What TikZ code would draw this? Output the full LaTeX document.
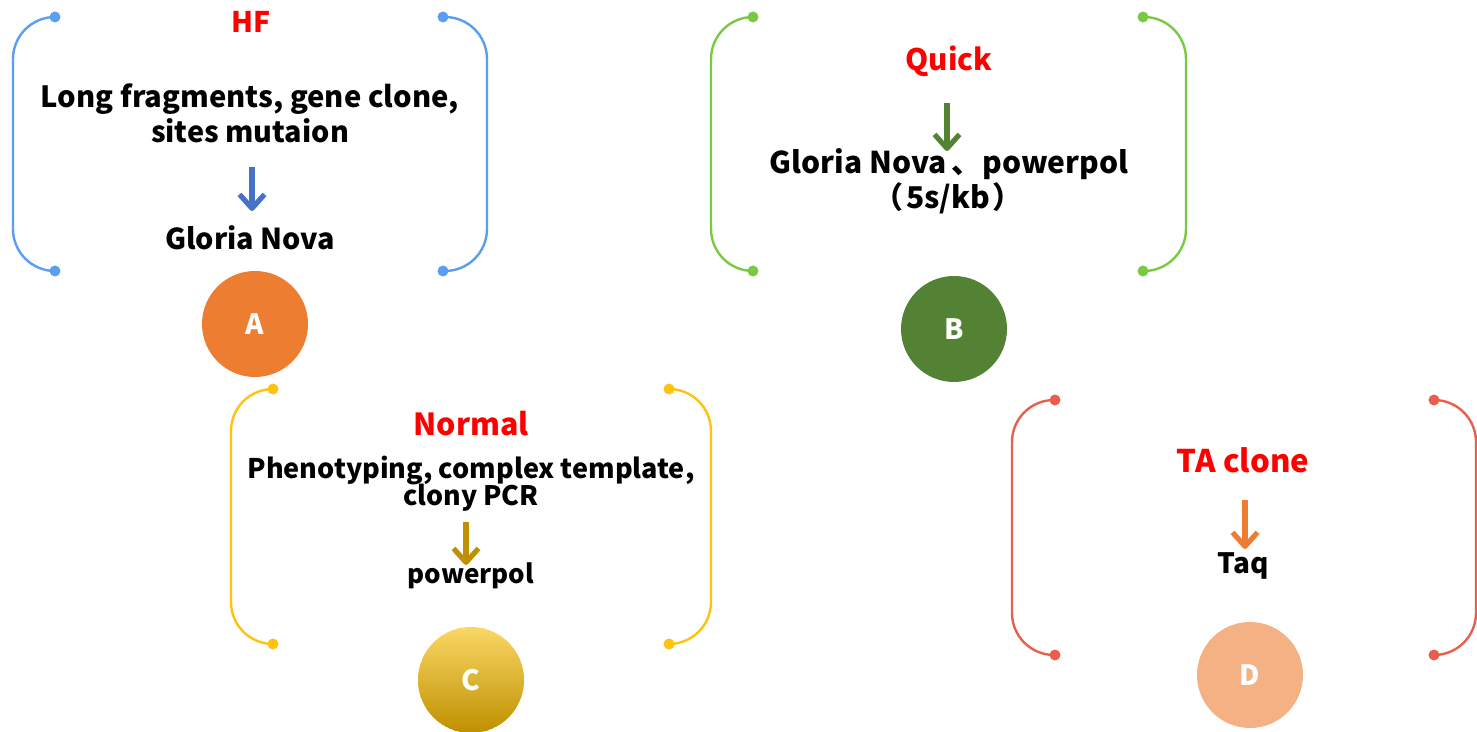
\documentclass[tikz,border=0pt]{standalone}
\usepackage{fontspec}
\setmainfont{Noto Sans CJK SC}
\usetikzlibrary{arrows.meta}
\definecolor{titlered}{HTML}{FF0000}
\definecolor{brA}{HTML}{5B9DF0}
\definecolor{arA}{HTML}{4472C4}
\definecolor{ciA}{HTML}{ED7D31}
\definecolor{brB}{HTML}{7AC943}
\definecolor{arB}{HTML}{548235}
\definecolor{brC}{HTML}{FFC20E}
\definecolor{arC}{HTML}{BF9000}
\definecolor{ciCtop}{HTML}{FAD866}
\definecolor{brD}{HTML}{E8604C}
\definecolor{arD}{HTML}{ED7D31}
\definecolor{ciD}{HTML}{F4B183}
\newcommand{\fsz}[1]{\fontsize{#1}{#1}\selectfont\bfseries}
\begin{document}
\begin{tikzpicture}[x=0.5pt,y=-0.5pt,
  title/.style={text=titlered, inner sep=0pt, anchor=base},
  body/.style={inner sep=0pt, anchor=base},
  bracket/.style={line width=1.2pt, rounded corners=21pt},
  dotmark/.style={circle, inner sep=0pt, minimum size=5.5pt},
  badge/.style={circle, minimum size=53pt, inner sep=0pt, text=white, font=\fsz{14}},
  flow/.style={line width=2.6pt, line join=round, -{Straight Barb[length=7pt,width=12.5pt,line join=round]}}
]
\useasboundingbox (0,0) rectangle (1477,732);

% ---------- A ----------
\coordinate (aTL) at (55,17);  \coordinate (aBL) at (55,271);
\coordinate (aTR) at (443,17); \coordinate (aBR) at (443,271);
\draw[bracket, brA] (aTL) -- (13,17) -- (13,271) -- (aBL);
\draw[bracket, brA] (aTR) -- (487,17) -- (487,271) -- (aBR);
\foreach \p in {aTL,aBL,aTR,aBR} \node[dotmark, fill=brA] at (\p) {};
\node[title, font=\fsz{14.2}] (hf) at (251,33) {HF};
\node[body, font=\fsz{14.6}] (a1) at (250,108) {Long fragments, gene clone,};
\node[body, font=\fsz{14.4}] (a2) at (250,143) {sites mutaion};
\node[body, font=\fsz{14.4}] (a3) at (250,250) {Gloria Nova};
\coordinate (aS) at (252,167); \coordinate (aE) at (252,211);
\draw[flow, arA] (aS) -- (aE);
\node[badge, fill=ciA] (cA) at (255,324) {A};

% ---------- B ----------
\coordinate (bTL) at (753,17);  \coordinate (bBL) at (753,271);
\coordinate (bTR) at (1143,17); \coordinate (bBR) at (1143,271);
\draw[bracket, brB] (bTL) -- (711,17) -- (711,271) -- (bBL);
\draw[bracket, brB] (bTR) -- (1186,17) -- (1186,271) -- (bBR);
\foreach \p in {bTL,bBL,bTR,bBR} \node[dotmark, fill=brB] at (\p) {};
\node[title, font=\fsz{14.8}] (quick) at (949,71) {Quick};
\node[body, font=\fsz{15}] (b1) at (949,174) {Gloria Nova\hspace{0.15em}、\hspace{0.05em}powerpol};
\node[body, font=\fsz{15}] (b2) at (948,209) {（\hspace{0.1em}5s/kb\hspace{0.1em}）};
\coordinate (bS) at (947,103); \coordinate (bE) at (947,151);
\draw[flow, arB] (bS) -- (bE);
\node[badge, fill=arB] (cB) at (954,329) {B};

% ---------- C ----------
\coordinate (cTL) at (273,389);  \coordinate (cBL) at (273,644);
\coordinate (cTR) at (669,389); \coordinate (cBR) at (669,644);
\draw[bracket, brC] (cTL) -- (231,389) -- (231,644) -- (cBL);
\draw[bracket, brC] (cTR) -- (711,389) -- (711,644) -- (cBR);
\foreach \p in {cTL,cBL,cTR,cBR} \node[dotmark, fill=brC] at (\p) {};
\node[title, font=\fsz{15.2}] (normal) at (471,436) {Normal};
\node[body, font=\fsz{13.5}] (c1) at (471,478) {Phenotyping, complex template,};
\node[body, font=\fsz{13.4}] (c2) at (471,505) {clony PCR};
\node[body, font=\fsz{13}] (c3) at (471,583) {powerpol};
\coordinate (cS) at (466,522); \coordinate (cE) at (466,565);
\draw[flow, arC] (cS) -- (cE);
\begin{scope}
  \clip (471,680) circle (26.5pt);
  \foreach \i in {0,...,53}{
    \pgfmathsetmacro{\pct}{\i*100/53}
    \fill[arC!\pct!ciCtop] (410,{626+2*\i}) rectangle (532,{629+2*\i});
  }
\end{scope}
\node[badge] (cC) at (471,680) {C};

% ---------- D ----------
\coordinate (dTL) at (1055,400);  \coordinate (dBL) at (1055,655);
\coordinate (dTR) at (1434,400); \coordinate (dBR) at (1434,655);
\draw[bracket, brD] (dTL) -- (1012,400) -- (1012,655) -- (dBL);
\draw[bracket, brD] (dTR) -- (1476,400) -- (1476,655) -- (dBR);
\foreach \p in {dTL,dBL,dTR,dBR} \node[dotmark, fill=brD] at (\p) {};
\node[title, font=\fsz{15.6}] (ta) at (1243,473) {TA clone};
\node[body, font=\fsz{14}] (d1) at (1243,573) {Taq};
\coordinate (dS) at (1245,500); \coordinate (dE) at (1245,549);
\draw[flow, arD] (dS) -- (dE);
\node[badge, fill=ciD] (cD) at (1250,675) {D};
\end{tikzpicture}
\end{document}
